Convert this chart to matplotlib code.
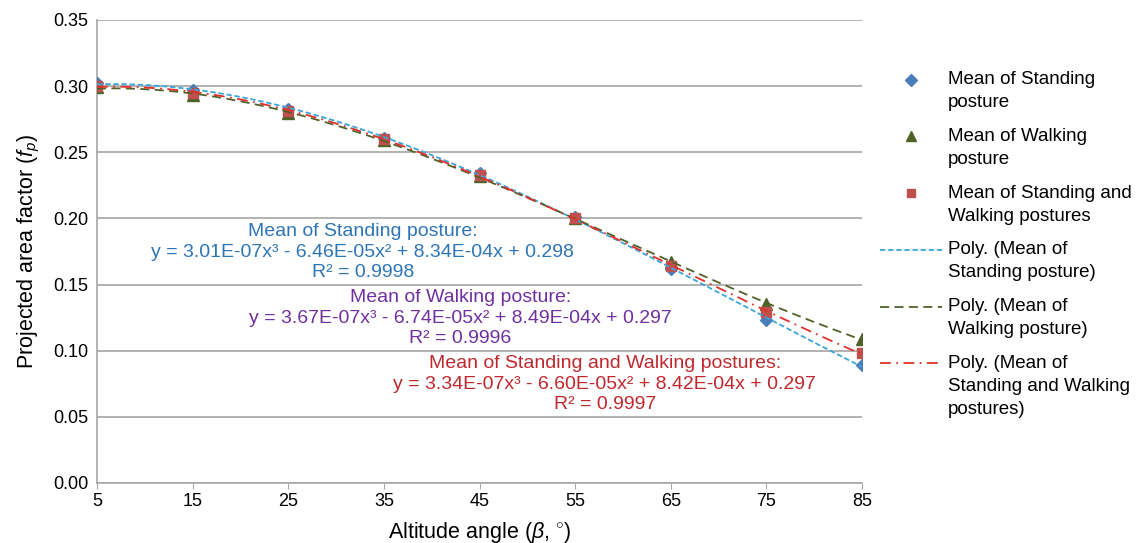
import numpy as np
import matplotlib.pyplot as plt

plt.rcParams['font.family'] = ['Liberation Sans', 'DejaVu Sans']
plt.rcParams['mathtext.fontset'] = 'custom'
plt.rcParams['mathtext.it'] = 'Liberation Sans:italic'
plt.rcParams['mathtext.rm'] = 'Liberation Sans'

# altitude angle (deg) and projected area factor
angles = [5, 15, 25, 35, 45, 55, 65, 75, 85]
standing = [0.302, 0.297, 0.283, 0.261, 0.234, 0.201, 0.162, 0.123, 0.089]
walking = [0.299, 0.293, 0.280, 0.259, 0.232, 0.200, 0.167, 0.135, 0.109]
mean_both = [0.300, 0.295, 0.281, 0.260, 0.233, 0.200, 0.164, 0.129, 0.098]

eq_texts = [
    "Mean of Standing posture:\ny = 3.01E-07x³ - 6.46E-05x² + 8.34E-04x + 0.298\nR² = 0.9998",
    "Mean of Walking posture:\ny = 3.67E-07x³ - 6.74E-05x² + 8.49E-04x + 0.297\nR² = 0.9996",
    "Mean of Standing and Walking postures:\ny = 3.34E-07x³ - 6.60E-05x² + 8.42E-04x + 0.297\nR² = 0.9997",
]

c_std, c_walk, c_mean = '#4a7ebb', '#4f6228', '#c0504d'
c_std_fit, c_walk_fit, c_mean_fit = '#3aa6dc', '#4f6228', '#e0302a'

fig = plt.figure(figsize=(11.44, 5.43), dpi=100)
ax = fig.add_axes([0.0848, 0.1105, 0.6687, 0.8527])

x = np.array(angles, dtype=float)
xs = np.linspace(5, 85, 200)

# Excel-style cubic trendlines fitted on the means
fit_std = np.polyval(np.polyfit(x, standing, 3), xs)
fit_walk = np.polyval(np.polyfit(x, walking, 3), xs)
fit_mean = np.polyval(np.polyfit(x, mean_both, 3), xs)

h1, = ax.plot(x, standing, 'D', color=c_std, ms=6.5, ls='none', zorder=4)
h2, = ax.plot(x, walking, '^', color=c_walk, ms=8.5, ls='none', zorder=3)
h3, = ax.plot(x, mean_both, 's', color=c_mean, ms=7, ls='none', zorder=5)
h4, = ax.plot(xs, fit_std, color=c_std_fit, lw=1.3, ls=(0, (3, 1.5)), zorder=6)
h5, = ax.plot(xs, fit_walk, color=c_walk_fit, lw=1.3, ls=(0, (5, 3)), zorder=6)
h6, = ax.plot(xs, fit_mean, color=c_mean_fit, lw=1.3, ls=(0, (6, 3, 1, 3)), zorder=6)

ax.set_xlim(5, 85)
ax.set_ylim(0, 0.35)
ax.set_xticks(angles)
ax.set_yticks(np.arange(0, 0.351, 0.05))
ax.yaxis.set_major_formatter(plt.FormatStrFormatter('%.2f'))
ax.grid(axis='y', color='#a6a6a6', lw=1.2)
ax.set_axisbelow(True)
for s in ['top', 'right']:
    ax.spines[s].set_visible(False)
ax.spines['left'].set_color('#a6a6a6')
ax.spines['bottom'].set_color('#a6a6a6')
ax.spines['left'].set_linewidth(1.2)
ax.spines['bottom'].set_linewidth(1.2)
ax.tick_params(axis='both', labelsize=13, color='#a6a6a6', length=4)
ax.tick_params(axis='y', length=0, pad=6)

ax.set_xlabel(r'Altitude angle ($\beta$, $^{\circ}$)', fontsize=15.5, labelpad=7)
ax.set_ylabel(r'Projected area factor ($f_p$)', fontsize=15.5, labelpad=8)

ax.text(32.8, 0.1746, eq_texts[0], color='#2e75b6', fontsize=14, ha='center', va='center',
        linespacing=1.26)
ax.text(43.0, 0.1247, eq_texts[1], color='#7030a0', fontsize=14, ha='center', va='center',
        linespacing=1.26)
ax.text(58.1, 0.0748, eq_texts[2], color='#c0282d', fontsize=14, ha='center', va='center',
        linespacing=1.26)

labels = ["Mean of Standing\nposture", "Mean of Walking\nposture",
          "Mean of Standing and\nWalking postures", "Poly. (Mean of\nStanding posture)",
          "Poly. (Mean of\nWalking posture)", "Poly. (Mean of\nStanding and Walking\npostures)"]
leg = fig.legend([h1, h2, h3, h4, h5, h6], labels, loc='upper left', bbox_to_anchor=(0.758, 0.893),
                 frameon=False, fontsize=13.5, handlelength=3.3, handletextpad=0.3,
                 labelspacing=0.9, markerscale=0.9, borderpad=0.2)
for t in leg.get_texts():
    t.set_linespacing(1.45)

# put each legend symbol next to the first line of its label, as in the original
for h, lab in zip(leg.legend_handles, labels):
    n_lines = lab.count('\n') + 1
    dy = (n_lines - 1) * 8.2
    h.set_ydata(np.asarray(h.get_ydata(), dtype=float) + dy)

fig.savefig('out.png', dpi=100)
